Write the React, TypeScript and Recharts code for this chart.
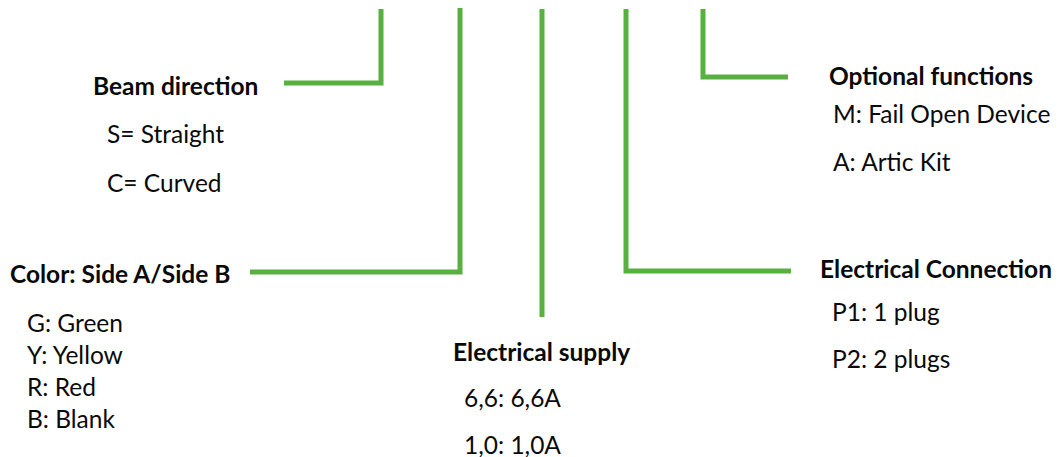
import React from "react";
import { ComposedChart, Line, Scatter, XAxis, YAxis } from "recharts";

// connector paths, in picture coordinates (x right, y down)
const beamConnector = [
  { x: 284, y: 83 },
  { x: 381, y: 83 },
  { x: 381, y: 9 },
];
const colorConnector = [
  { x: 250, y: 272 },
  { x: 460, y: 272 },
  { x: 460, y: 8 },
];
const supplyConnector = [
  { x: 542, y: 317 },
  { x: 542, y: 9 },
];
const connectionConnector = [
  { x: 791, y: 271 },
  { x: 626, y: 271 },
  { x: 626, y: 9 },
];
const optionConnector = [
  { x: 788, y: 77 },
  { x: 703, y: 77 },
  { x: 703, y: 9 },
];

const headings = [
  { x: 93, y: 85, text: "Beam direction" },
  { x: 10, y: 273, text: "Color: Side A/Side B" },
  { x: 453, y: 351, text: "Electrical supply" },
  { x: 820, y: 268, text: "Electrical Connection" },
  { x: 829, y: 75, text: "Optional functions" },
];

const items = [
  { x: 107, y: 133, text: "S= Straight" },
  { x: 107, y: 182, text: "C= Curved" },
  { x: 27, y: 322, text: "G: Green" },
  { x: 27, y: 354, text: "Y: Yellow" },
  { x: 27, y: 386, text: "R: Red" },
  { x: 27, y: 418, text: "B: Blank" },
  { x: 464, y: 397, text: "6,6: 6,6A" },
  { x: 464, y: 444, text: "1,0: 1,0A" },
  { x: 832, y: 311, text: "P1: 1 plug" },
  { x: 832, y: 358, text: "P2: 2 plugs" },
  { x: 833, y: 113, text: "M: Fail Open Device" },
  { x: 833, y: 161, text: "A: Artic Kit" },
];

const GREEN = "#57b040";
const FONT = "Lato, 'Open Sans', sans-serif";

const textShape = (bold: boolean) => (props: any) => {
  const { cx, cy, payload } = props;
  return (
    <text
      x={cx}
      y={cy}
      dominantBaseline="central"
      fontFamily={FONT}
      fontSize={24.5}
      fontWeight={bold ? 700 : 400}
      fill="#0a0a0a"
    >
      {payload.text}
    </text>
  );
};

const connectors = [
  beamConnector,
  colorConnector,
  supplyConnector,
  connectionConnector,
  optionConnector,
];

export default function App() {
  return (
    <div style={{ position: "absolute", left: 0, top: 0, background: "#fff" }}>
      <ComposedChart
        width={1063}
        height={457}
        margin={{ top: 0, right: 0, bottom: 0, left: 0 }}
      >
        <XAxis type="number" dataKey="x" domain={[0, 1063]} hide />
        <YAxis type="number" dataKey="y" domain={[0, 457]} reversed hide />
        {connectors.map((c, i) => (
          <Line
            key={i}
            data={c}
            dataKey="y"
            stroke={GREEN}
            strokeWidth={5}
            strokeLinecap="butt"
            strokeLinejoin="miter"
            dot={false}
            activeDot={false}
            isAnimationActive={false}
          />
        ))}
        <Scatter data={headings} dataKey="y" shape={textShape(true)} isAnimationActive={false} />
        <Scatter data={items} dataKey="y" shape={textShape(false)} isAnimationActive={false} />
      </ComposedChart>
    </div>
  );
}
